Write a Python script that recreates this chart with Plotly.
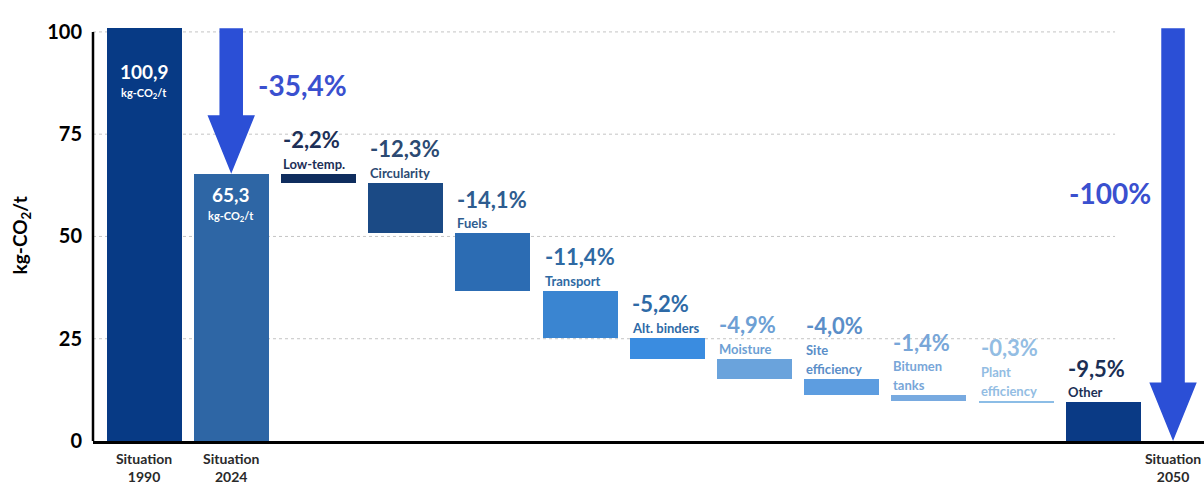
import plotly.graph_objects as go

# ---- data -------------------------------------------------------------
start_labels = ["Situation<br>1990", "Situation<br>2024"]
start_values = [100.9, 65.3]            # kg-CO2/t
end_label = "Situation<br>2050"

lever_names = ["Low-temp.", "Circularity", "Fuels", "Transport", "Alt. binders",
               "Moisture", "Site\nefficiency", "Bitumen\ntanks", "Plant\nefficiency", "Other"]
lever_reductions = [2.2, 12.3, 14.1, 11.4, 5.2, 4.9, 4.0, 1.4, 0.3, 9.5]

drop_to_2024_label = "-35,4%"
drop_to_2050_label = "-100%"

y_ticks = [0, 25, 50, 75, 100]

# ---- styles -----------------------------------------------------------
FONT = "Lato"
start_colors = ["#073a85", "#2e66a5"]
lever_colors = ["#0f2d5e", "#1b4a85", "#2c6cb3", "#3a85d1", "#3a8ce0",
                "#6aa3dc", "#5d9de0", "#78aae0", "#8cbde6", "#0a3a85"]
lever_text_colors = ["#1d2f57", "#2c4a72", "#2e5c8f", "#2f6aa3", "#2e6aa6",
                     "#6d9fd4", "#5a8ec8", "#78a6d8", "#93bde3", "#1b2f55"]
ARROW = "#2b4fd6"
ARROW_TEXT = "#3a50cf"
BAR_W = 0.86
X_2050 = 11.8

def fmt(v):
    return f"{v:.1f}".replace(".", ",")

# ---- waterfall geometry from the data --------------------------------
lever_x = [2 + i for i in range(len(lever_names))]
tops, bases = [], []
level = start_values[1]
for r in lever_reductions:
    tops.append(level)
    level = round(level - r, 4)
    bases.append(level)
heights = [t - b for t, b in zip(tops, bases)]

fig = go.Figure()

fig.add_trace(go.Bar(
    x=[0, 1], y=start_values, width=BAR_W,
    marker=dict(color=start_colors, line=dict(width=0)),
    hoverinfo="skip", showlegend=False,
))
fig.add_trace(go.Bar(
    x=lever_x, y=heights, base=bases, width=BAR_W,
    marker=dict(color=lever_colors, line=dict(width=0)),
    hoverinfo="skip", showlegend=False,
))

shapes = []
# dashed horizontal guides
for t in y_ticks[1:]:
    shapes.append(dict(type="line", xref="x", yref="y", x0=-0.585, x1=11.135, y0=t, y1=t,
                       line=dict(color="#c4c4c4", width=1, dash="3px,3px"), layer="below"))
# vertical axis line from 0 to 100
shapes.append(dict(type="line", xref="paper", yref="y", x0=0, x1=0, y0=0, y1=y_ticks[-1],
                   line=dict(color="black", width=2.5)))


def down_arrow(xc, y_top, y_tip, shaft=0.135, head=0.272, head_len=14.3):
    yb = y_tip + head_len
    return (f"M {xc-shaft},{y_top} L {xc+shaft},{y_top} L {xc+shaft},{yb} "
            f"L {xc+head},{yb} L {xc},{y_tip} L {xc-head},{yb} L {xc-shaft},{yb} Z")


shapes.append(dict(type="path", xref="x", yref="y",
                   path=down_arrow(1.0, start_values[0], start_values[1]),
                   fillcolor=ARROW, line=dict(width=0)))
shapes.append(dict(type="path", xref="x", yref="y",
                   path=down_arrow(X_2050, start_values[0], 0),
                   fillcolor=ARROW, line=dict(width=0)))

annotations = []
# values printed inside the two start bars
for xi, v, dy in [(0, start_values[0], 43), (1, start_values[1], 21)]:
    annotations.append(dict(x=xi, y=v, xref="x", yref="y", yshift=-dy, showarrow=False,
                            text=fmt(v), font=dict(family=FONT, size=19, color="white", weight="bold"),
                            yanchor="middle"))
    annotations.append(dict(x=xi, y=v, xref="x", yref="y", yshift=-dy - 22, showarrow=False,
                            text="kg-CO<sub>2</sub>/t",
                            font=dict(family=FONT, size=11, color="white", weight="bold"),
                            yanchor="middle"))

# lever labels: name line(s) and percentage above each step
for xi, name, r, top, col in zip(lever_x, lever_names, lever_reductions, tops, lever_text_colors):
    lines = name.split("\n")
    for j, line in enumerate(reversed(lines)):
        annotations.append(dict(x=xi - BAR_W / 2, y=top, xref="x", yref="y", xanchor="left",
                                yanchor="middle", yshift=10 + 19 * j, showarrow=False, text=line,
                                font=dict(family=FONT, size=13, color=col, weight="bold")))
    annotations.append(dict(x=xi - BAR_W / 2, y=top, xref="x", yref="y", xanchor="left",
                            yanchor="middle", yshift=10 + 19 * (len(lines) - 1) + 24,
                            showarrow=False, text=f"-{fmt(r)}%",
                            font=dict(family=FONT, size=22, color=col, weight="bold")))

# totals next to the arrows
annotations.append(dict(x=1.28, y=87.0, xref="x", yref="y", xanchor="left", yanchor="middle",
                        showarrow=False, text=drop_to_2024_label,
                        font=dict(family=FONT, size=28, color=ARROW_TEXT, weight="bold")))
annotations.append(dict(x=11.57, y=60.6, xref="x", yref="y", xanchor="right", yanchor="middle",
                        showarrow=False, text=drop_to_2050_label,
                        font=dict(family=FONT, size=28, color=ARROW_TEXT, weight="bold")))

# y-axis title
annotations.append(dict(x=-0.078, y=0.467, xref="paper", yref="paper", textangle=-90,
                        showarrow=False, text="kg-CO<sub>2</sub>/t",
                        font=dict(family=FONT, size=19, color="black", weight="bold")))

fig.update_layout(
    width=1204, height=485,
    margin=dict(l=93, r=0, t=0, b=44),
    paper_bgcolor="white", plot_bgcolor="white",
    barmode="overlay", bargap=0,
    shapes=shapes, annotations=annotations,
    xaxis=dict(range=[-0.585, 12.155], showgrid=False, zeroline=False,
               showline=True, linecolor="black", linewidth=2.5,
               tickmode="array", tickvals=[0, 1, X_2050],
               ticktext=start_labels + [end_label], ticklabelstandoff=3,
               tickfont=dict(family=FONT, size=14, color="#2a2a2a", weight="bold")),
    yaxis=dict(range=[0, 107.8], showgrid=False, zeroline=False, showline=False,
               tickmode="array", tickvals=y_ticks, ticklabelstandoff=10,
               tickfont=dict(family=FONT, size=20, color="black", weight="bold")),
)

fig.write_html("out.html")
